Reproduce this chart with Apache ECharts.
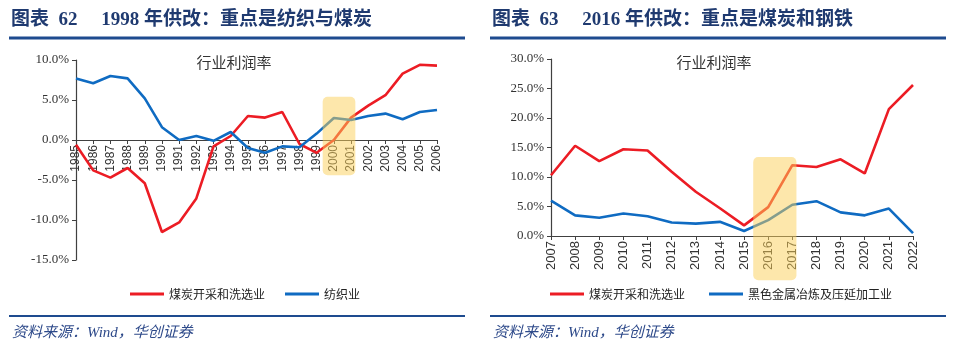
<!DOCTYPE html>
<html>
<head>
<meta charset="utf-8">
<script src="https://cdn.jsdelivr.net/npm/echarts@6/dist/echarts.min.js"></script>
<style>
  html, body { margin: 0; padding: 0; background: #fff; }
  #main { width: 960px; height: 353px; }
</style>
</head>
<body>
<div id="main"></div>
<script>
var yearsA = ['1985', '1986', '1987', '1988', '1989', '1990', '1991', '1992', '1993', '1994', '1995',
  '1996', '1997', '1998', '1999', '2000', '2001', '2002', '2003', '2004', '2005', '2006'];
var coalA = [-0.6, -3.8, -4.7, -3.5, -5.4, -11.5, -10.3, -7.3, -0.8, 0.5, 3.0,
  2.8, 3.5, -0.5, -1.6, 0.0, 2.8, 4.3, 5.6, 8.3, 9.4, 9.3];
var textileA = [7.7, 7.1, 8.0, 7.7, 5.2, 1.6, 0.0, 0.5, -0.1, 1.0, -1.0,
  -1.6, -0.8, -0.9, 0.8, 2.75, 2.5, 3.0, 3.3, 2.6, 3.5, 3.75];

var yearsB = ['2007', '2008', '2009', '2010', '2011', '2012', '2013', '2014',
  '2015', '2016', '2017', '2018', '2019', '2020', '2021', '2022'];
var coalB = [10.3, 15.3, 12.7, 14.7, 14.5, 10.9, 7.5, 4.7, 1.8, 4.9, 12.0, 11.7, 13.0, 10.6, 21.5, 25.6];
var steelB = [6.0, 3.5, 3.1, 3.8, 3.35, 2.3, 2.1, 2.4, 0.85, 2.7, 5.3, 5.9, 4.0, 3.5, 4.65, 0.5];

var chartDom = document.getElementById('main');
var myChart = echarts.init(chartDom);

var RED = '#EC1C24';
var BLUE = '#0F6BC2';
var NAVY = '#1F3A70';
var axisColor = '#404040';

function pct(v) { return v.toFixed(1) + '%'; }

function xAxisOf(idx, data, size) {
  return {
    type: 'category', gridIndex: idx, data: data, boundaryGap: false,
    axisLine: { onZero: false, lineStyle: { color: axisColor, width: 1.2 } },
    axisTick: { show: true, length: 4, lineStyle: { color: axisColor } },
    axisLabel: { rotate: 90, margin: 5, fontSize: size, color: '#333', fontFamily: 'Liberation Sans', interval: 0 },
    splitLine: { show: false }
  };
}

function yAxisOf(idx, min, max, size) {
  return {
    type: 'value', gridIndex: idx, min: min, max: max, interval: 5,
    axisLine: { show: true, onZero: false, lineStyle: { color: axisColor, width: 1.2 } },
    axisTick: { show: true, length: 4, lineStyle: { color: axisColor } },
    axisLabel: { formatter: pct, margin: 7, fontSize: size, color: '#333', fontFamily: 'Liberation Serif' },
    splitLine: { show: false }
  };
}

function lineOf(name, x, data, color) {
  return {
    name: name, type: 'line', xAxisIndex: x, yAxisIndex: x, data: data,
    showSymbol: false, symbol: 'none', lineStyle: { color: color, width: 2.6 },
    itemStyle: { color: color }, animation: false
  };
}

var titleStyle = { fontFamily: 'Liberation Serif, Noto Sans CJK SC', fontWeight: 'bold', fontSize: 19, color: NAVY };
var legendText = { fontSize: 12, color: '#222', fontFamily: 'Noto Sans CJK SC' };

var option = {
  animation: false,
  title: [
    { text: '图表  62     1998 年供改：重点是纺织与煤炭', left: 11, top: 11, padding: 0, textStyle: titleStyle },
    { text: '图表  63     2016 年供改：重点是煤炭和钢铁', left: 492, top: 11, padding: 0, textStyle: titleStyle }
  ],
  legend: [
    {
      data: ['煤炭开采和洗选业', '纺织业'], left: 125, top: 283, itemWidth: 34, itemHeight: 3,
      itemGap: 20, icon: 'rect', textStyle: legendText
    },
    {
      data: ['煤炭开采和洗选业 ', '黑色金属冶炼及压延加工业'], left: 545, top: 283, itemWidth: 34, itemHeight: 3,
      itemGap: 24, icon: 'rect', textStyle: legendText,
      formatter: function (n) { return n.trim(); }
    }
  ],
  grid: [
    { left: 76, top: 60, right: 523, bottom: 93 },
    { left: 551, top: 59, right: 47, bottom: 117 }
  ],
  xAxis: [xAxisOf(0, yearsA, 12), xAxisOf(1, yearsB, 13)],
  yAxis: [yAxisOf(0, -15, 10, 13), yAxisOf(1, 0, 30, 13)],
  series: [
    lineOf('煤炭开采和洗选业', 0, coalA, RED),
    lineOf('纺织业', 0, textileA, BLUE),
    lineOf('煤炭开采和洗选业 ', 1, coalB, RED),
    lineOf('黑色金属冶炼及压延加工业', 1, steelB, BLUE)
  ]
};

option && myChart.setOption(option);

function px(grid, cat, val) {
  return myChart.convertToPixel({ xAxisIndex: grid, yAxisIndex: grid }, [cat, val]);
}

// left chart: move the whole category axis (line, ticks, labels) up to the zero line
var zeroShift = px(0, yearsA[0], 0)[1] - px(0, yearsA[0], -15)[1];
myChart.setOption({ xAxis: [{ offset: zeroShift }, {}] });

// highlight boxes placed from the axes, then the frame lines and texts
function boxOf(grid, c0, c1, padL, padR, vTop, vBottom) {
  var a = px(grid, c0, vTop), b = px(grid, c1, vBottom);
  var step = px(grid, c1, 0)[0] - px(grid, c0, 0)[0];
  return {
    type: 'rect', z: 100, silent: true,
    shape: { x: a[0] - padL * step, y: a[1], width: b[0] - a[0] + (padL + padR) * step, height: b[1] - a[1], r: 5 },
    style: { fill: 'rgba(252,208,88,0.5)' }
  };
}
function hline(x1, x2, y, w) {
  return { type: 'line', shape: { x1: x1, y1: y, x2: x2, y2: y }, style: { stroke: '#1E4B8F', lineWidth: w } };
}
function text(x, y, s, style) {
  return { type: 'text', x: x, y: y, style: Object.assign({ text: s }, style) };
}

var subStyle = { fill: '#333', font: '15px "Noto Sans CJK SC"', textAlign: 'center', textVerticalAlign: 'middle' };
var srcStyle = { fill: '#2E4A8A', font: 'italic 15px "Liberation Serif", "Noto Sans CJK SC"', textVerticalAlign: 'middle' };

myChart.setOption({
  graphic: [
    boxOf(0, '2000', '2001', 0.65, 0.25, 5.4, -4.4),
    boxOf(1, '2016', '2017', 0.62, 0.17, 13.4, -7.5),
    hline(9, 465, 38, 3),
    hline(490, 946, 38, 3),
    hline(9, 465, 316, 2),
    hline(490, 946, 316, 2),
    text(234, 62, '行业利润率', subStyle),
    text(714, 62, '行业利润率', subStyle),
    text(12, 333, '资料来源：Wind，华创证券', srcStyle),
    text(493, 333, '资料来源：Wind，华创证券', srcStyle)
  ]
});
</script>
</body>
</html>
